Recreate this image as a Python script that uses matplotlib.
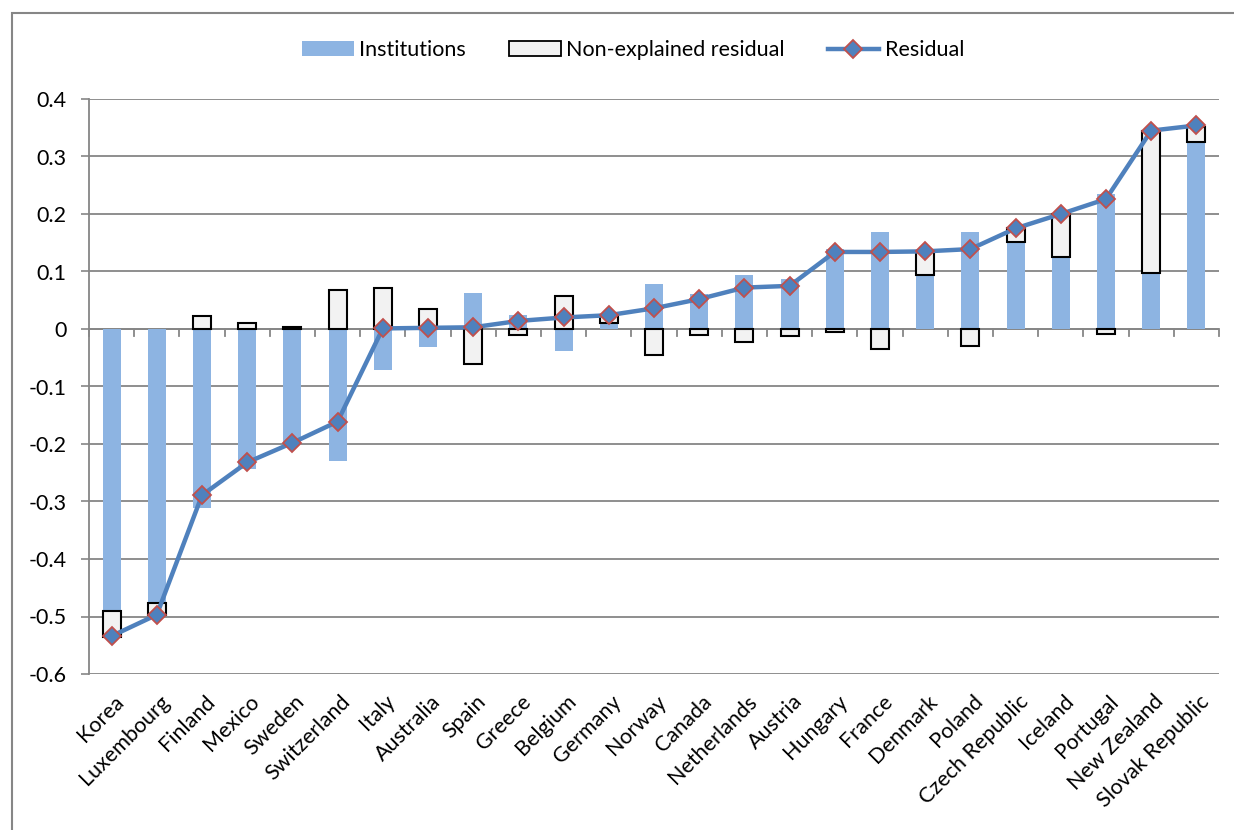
import numpy as np
import matplotlib.pyplot as plt
from matplotlib.lines import Line2D
from matplotlib.patches import Patch, Rectangle

plt.rcParams['font.family'] = ['Lato', 'DejaVu Sans']

countries = ['Korea', 'Luxembourg', 'Finland', 'Mexico', 'Sweden', 'Switzerland',
             'Italy', 'Australia', 'Spain', 'Greece', 'Belgium', 'Germany', 'Norway',
             'Canada', 'Netherlands', 'Austria', 'Hungary', 'France', 'Denmark',
             'Poland', 'Czech Republic', 'Iceland', 'Portugal', 'New Zealand',
             'Slovak Republic']
institutions = [-0.491, -0.476, -0.312, -0.243, -0.201, -0.230, -0.071, -0.032, 0.062,
                0.025, -0.039, 0.010, 0.079, 0.061, 0.094, 0.087, 0.139, 0.168, 0.094,
                0.168, 0.152, 0.126, 0.234, 0.098, 0.326]
non_explained = [-0.044, -0.021, 0.023, 0.010, 0.003, 0.067, 0.072, 0.034, -0.061,
                 -0.011, 0.057, 0.014, -0.045, -0.010, -0.023, -0.012, -0.005, -0.034,
                 0.041, -0.030, 0.023, 0.074, -0.009, 0.246, 0.026]
residual = [-0.534, -0.497, -0.289, -0.232, -0.198, -0.161, 0.001, 0.002, 0.003, 0.014,
            0.020, 0.024, 0.036, 0.052, 0.072, 0.075, 0.134, 0.134, 0.135, 0.139, 0.175,
            0.200, 0.226, 0.345, 0.354]

blue_bar = '#8DB4E2'
line_blue = '#4F81BD'
grid_grey = '#868686'
fs = 15.5

fig = plt.figure(figsize=(12.34, 8.3), dpi=100)
ax = fig.add_axes([89 / 1234, 1 - 674 / 830, (1219 - 89) / 1234, (674 - 99) / 830])

x = np.arange(len(countries))
inst = np.array(institutions)
ne = np.array(non_explained)
# excel-style stacking: positives on positives, negatives on negatives
ne_bottom = np.where(ne >= 0, np.maximum(inst, 0), np.minimum(inst, 0))

ax.bar(x, inst, width=0.4, color=blue_bar, zorder=2)
ax.bar(x, ne, width=0.4, bottom=ne_bottom, color='#F2F2F2', edgecolor='black',
       linewidth=1.5, zorder=3)
ax.plot(x, residual, color=line_blue, lw=3.2, marker='D', markersize=9,
        markerfacecolor=line_blue, markeredgecolor='#C0504D', markeredgewidth=1.3,
        zorder=5)

ax.set_xlim(-0.5, len(countries) - 0.5)
ax.set_ylim(-0.6, 0.4)
yt = np.round(np.arange(-0.6, 0.41, 0.1), 1)
ax.set_yticks(yt)
ax.set_yticklabels(['0' if v == 0 else f'{v:.1f}' for v in yt], fontsize=fs)
ax.yaxis.grid(True, color=grid_grey, lw=1.3, zorder=0)
ax.set_axisbelow(True)
ax.tick_params(axis='y', length=6, width=1.2, color=grid_grey, pad=10)

for s in ['top', 'right', 'bottom']:
    ax.spines[s].set_visible(False)
ax.spines['left'].set_color(grid_grey)
ax.spines['left'].set_linewidth(1.3)

# category axis sits at zero with ticks between categories
ax.axhline(0, color=grid_grey, lw=1.3, zorder=1)
for b in np.arange(-0.5, len(countries), 1.0):
    ax.plot([b, b], [0, -0.012], color=grid_grey, lw=1.3, zorder=1, clip_on=False)

ax.set_xticks(x)
ax.set_xticklabels([])
ax.tick_params(axis='x', length=0)
for xi, name in zip(x, countries):
    ax.text(xi + 0.05, -0.63, name, rotation=45, ha='right', va='top',
            rotation_mode='anchor', fontsize=fs, transform=ax.transData)

handles = [Patch(facecolor=blue_bar, edgecolor='none'),
           Patch(facecolor='#F2F2F2', edgecolor='black', linewidth=1.3),
           Line2D([], [], color=line_blue, lw=3.2, marker='D', markersize=9,
                  markerfacecolor=line_blue, markeredgecolor='#C0504D',
                  markeredgewidth=1.3)]
fig.legend(handles, ['Institutions', 'Non-explained residual', 'Residual'],
           loc='center', bbox_to_anchor=(633 / 1234, 1 - 50 / 830), ncol=3,
           frameon=False, fontsize=fs, handlelength=2.4, handleheight=0.65,
           handletextpad=0.25, columnspacing=2.0)

# chart area border
fig.patches.append(Rectangle((12 / 1234, -0.1), 1.2, 1 - 13 / 830 + 0.1,
                             transform=fig.transFigure, fill=False,
                             edgecolor=grid_grey, lw=1.5))

fig.savefig('out.png', dpi=100)
